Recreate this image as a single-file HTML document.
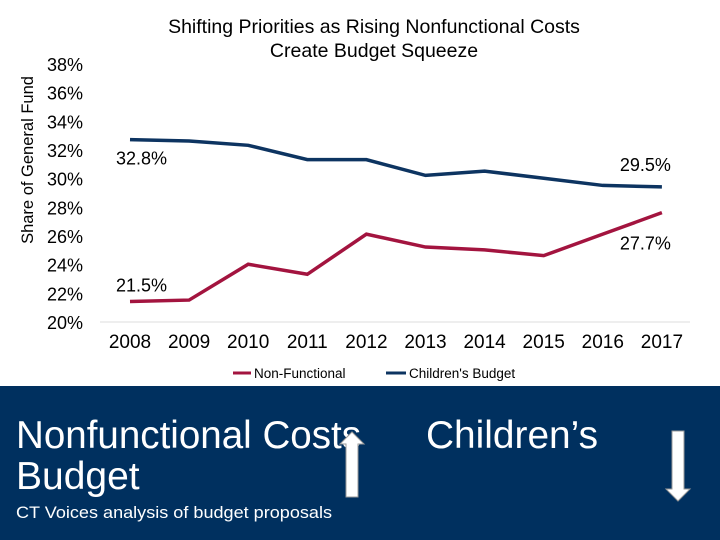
<!DOCTYPE html>
<html><head><meta charset="utf-8"><style>
body{margin:0;width:720px;height:540px;overflow:hidden;background:#fff;font-family:"Liberation Sans",sans-serif}
svg{position:absolute;left:0;top:0}
</style></head><body>
<svg width="720" height="540">
<text x="374" y="33" font-size="19.5" text-anchor="middle">Shifting Priorities as Rising Nonfunctional Costs</text>
<text x="374" y="57" font-size="19.5" text-anchor="middle">Create Budget Squeeze</text>
<text transform="translate(33,160) rotate(-90)" font-size="16.5" text-anchor="middle">Share of General Fund</text>
<g id="yticks"></g><g id="xticks"></g><g id="lines"></g>
<line x1="100" y1="322" x2="690" y2="322" stroke="#ddd"/>
<line x1="233" y1="373" x2="251" y2="373" stroke="#a3143f" stroke-width="3"/>
<text x="254" y="378" font-size="13.5">Non-Functional</text>
<line x1="386" y1="373" x2="406" y2="373" stroke="#0d3461" stroke-width="3"/>
<text x="409" y="378" font-size="13.5">Children's Budget</text>
<rect x="0" y="386" width="720" height="154" fill="#00305f"/>
<text x="16" y="448" font-size="39" fill="#fff" textLength="345" lengthAdjust="spacingAndGlyphs">Nonfunctional Costs</text>
<text x="16" y="489" font-size="39" fill="#fff">Budget</text>
<text x="16" y="518" font-size="17" fill="#fff" textLength="316" lengthAdjust="spacingAndGlyphs">CT Voices analysis of budget proposals</text>
<text x="426" y="448" font-size="39" fill="#fff" textLength="172" lengthAdjust="spacingAndGlyphs">Children’s</text>
<polygon points="346,497 346,444 340,444 352,432 364,444 358,444 358,497" fill="#fff" stroke="#999"/>
<polygon points="672,431 684,431 684,489 690,489 678,501 666,489 672,489" fill="#fff" stroke="#999"/>
</svg>
<script>
const years=["2008","2009","2010","2011","2012","2013","2014","2015","2016","2017"];
const nonFunctional=[21.5,21.6,24.1,23.4,26.2,25.3,25.1,24.7,26.2,27.7];
const childrens=[32.8,32.7,32.4,31.4,31.4,30.3,30.6,30.1,29.6,29.5];
const yTicks=[20,22,24,26,28,30,32,34,36,38];
const NS="http://www.w3.org/2000/svg";
const X=i=>130+i*59.1, Y=v=>323-(v-20)*14.33;
function mk(tag,attrs,parent,text){const e=document.createElementNS(NS,tag);for(const k in attrs)e.setAttribute(k,attrs[k]);if(text!==undefined)e.textContent=text;document.getElementById(parent).appendChild(e);return e;}
yTicks.forEach(t=>{const e=mk("text",{x:47,y:Y(t)+6,"font-size":18},"yticks",t+"%");

});
years.forEach((y,i)=>{const e=mk("text",{x:X(i),y:348,"font-size":19,"text-anchor":"middle"},"xticks",y);

});
function line(vals,col,name){const p=mk("polyline",{points:vals.map((v,i)=>X(i)+","+Y(v)).join(" "),fill:"none",stroke:col,"stroke-width":3.5},"lines");

}
line(childrens,"#0d3461","line-childrens-budget");
line(nonFunctional,"#a3143f","line-non-functional");
const labs=[[X(0)-14,Y(childrens[0])+25,childrens[0]],[X(9)-42,Y(childrens[9])-16,childrens[9]],[X(0)-14,Y(nonFunctional[0])-10,nonFunctional[0]],[X(9)-42,Y(nonFunctional[9])+37,nonFunctional[9]]];
labs.forEach(l=>{const e=mk("text",{x:l[0],y:l[1],"font-size":18},"lines",l[2].toFixed(1)+"%");

});
</script>
</body></html>
